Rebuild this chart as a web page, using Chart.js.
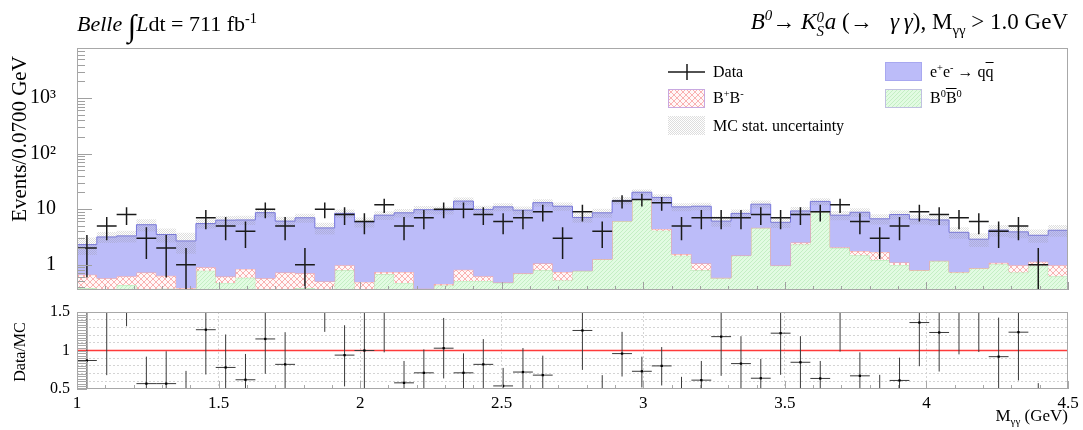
<!DOCTYPE html>
<html>
<head>
<meta charset="utf-8">
<script src="https://cdn.jsdelivr.net/npm/chart.js@4.4.1/dist/chart.umd.min.js"></script>
<style>
  body { margin: 0; background: #fff; width: 1083px; height: 430px; overflow: hidden; position: relative;
         font-family: "Liberation Serif", "DejaVu Serif", serif; color: #000; }
  canvas { position: absolute; left: 0; }
  #top_chart { top: 0; }
  #ratio_chart { top: 300px; }
  .t { position: absolute; white-space: nowrap; line-height: 1; }
  sup, sub { font-size: 0.65em; line-height: 0; }
  .ov { text-decoration: overline; }
  .stk { display: inline-flex; flex-direction: column; vertical-align: middle; font-size: 0.65em; line-height: 0.95; margin-right: 1px; }
  .leg { position: absolute; font-size: 16px; white-space: nowrap; line-height: 1; }
  .legbox { position: absolute; }
</style>
</head>
<body>
<canvas id="top_chart" width="1083" height="300"></canvas>
<canvas id="ratio_chart" width="1083" height="130"></canvas>

<div class="t" style="left:77px;top:10px;font-size:22px"><i>Belle</i> <span style="font-size:31px;vertical-align:-5px">&#8747;</span><i>L</i>dt = 711 fb<sup>-1</sup></div>
<div class="t" style="right:15px;top:10px;font-size:23px"><i>B<sup>0</sup></i>&#8594; <i>K</i><span class="stk"><i>0</i><i>S</i></span><i>a</i> (&#8594;&nbsp;&nbsp; <i>&#947;&#8201;&#947;</i>), M<sub>&#947;&#947;</sub> &gt; 1.0 GeV</div>
<div class="t" style="left:19px;top:139px;font-size:21px;transform:translate(-50%,-50%) rotate(-90deg)">Events/0.0700 GeV</div>
<div class="t" style="left:20px;top:352px;font-size:16px;transform:translate(-50%,-50%) rotate(-90deg)">Data/MC</div>
<div class="t" style="right:15px;top:407px;font-size:17px">M<sub>&#947;&#947;</sub> (GeV)</div>

<canvas class="legbox" id="leg_data" width="40" height="22" style="left:666px;top:61px"></canvas>
<div class="leg" style="left:713px;top:64px">Data</div>
<canvas class="legbox" id="leg_bpbm" width="37" height="19" style="left:668px;top:89px"></canvas>
<div class="leg" style="left:713px;top:90px">B<sup>+</sup>B<sup>-</sup></div>
<canvas class="legbox" id="leg_mc" width="37" height="19" style="left:668px;top:116px"></canvas>
<div class="leg" style="left:713px;top:118px">MC stat. uncertainty</div>
<canvas class="legbox" id="leg_qq" width="37" height="19" style="left:885px;top:62px"></canvas>
<div class="leg" style="left:930px;top:64px">e<sup>+</sup>e<sup>-</sup> &#8594; q<span class="ov">q</span></div>
<canvas class="legbox" id="leg_b0" width="37" height="19" style="left:885px;top:89px"></canvas>
<div class="leg" style="left:930px;top:90px">B<sup>0</sup><span class="ov">B</span><sup>0</sup></div>

<script>
// binning: 50 bins of 0.07 GeV from 1.0 to 4.5
const bin_low = 1.0;
const bin_width = 0.07;
const n_bins = 50;

const data_counts = [2,5,8,3,2,1,7,5,4,10, 5,1,10,8,6,12,5,7,10,10, 8,6,7,9,3,9,4,14,15,13, 5,7,7,7,8,7,8,9,12,6, 3,5,9,8,7,6,4,5,1,0];
const data_err = [1.41,2.24,2.83,1.73,1.41,1,2.65,2.24,2,3.16, 2.24,1,3.16,2.83,2.45,3.46,2.24,2.65,3.16,3.16,
                  2.83,2.45,2.65,3,1.73,3,2,3.74,3.87,3.61, 2.24,2.65,2.65,2.65,2.83,2.65,2.83,3,3.46,2.45,
                  1.73,2.24,3,2.83,2.65,2.45,2,2.24,1,0];

// MC components (events per bin)
const neutral_bb = [0.38,0.2,0.43,0.25,0.37,0.2,0.78,0.47,0.58,0.2, 0.25,0.38,0.2,0.79,0.2,0.67,0.47,0.2,0.42,0.51,
                    0.51,0.47,0.69,0.79,0.52,0.77,1.25,6.1,14.9,4.1, 1.45,0.79,0.57,1.45,4.6,0.96,2.3,8.96,2.0,1.48,
                    1.21,0.99,0.79,1.15,0.72,0.86,1.02,0.72,0.96,0.62];
const charged_bb = [0.28,0.37,0.19,0.47,0.26,0.18,0.12,0.14,0.26,0.37, 0.47,0.32,0.3,0.19,0.29,0.07,0.27,0.17,0.03,0.3,
                    0.11,0.01,0.01,0.26,0.22,0.01,0.01,0.05,0.1,0.3, 0.1,0.26,0.01,0.02,0.02,0.01,0.2,0.04,0.07,0.28,
                    0.49,0.11,0.01,0.03,0.02,0.01,0.06,0.26,0.17,0.36];
const continuum = [1.64,2.59,2.68,4.53,2.87,2.3,4.6,5.74,5.56,8.08, 5.38,6.3,4.1,7.42,5.41,7.06,7.86,9.43,9.15,13.19,
                   9.28,10.52,8.9,12.05,10.56,6.32,7.34,8.25,5.2,11.9, 9.45,10.25,5.52,6.93,7.68,4.83,6.8,4.8,5.73,7.04,
                   5.0,6.9,5.8,5.22,3.09,2.01,3.12,2.92,2.26,3.19];
const mc_stat_err = [0.8,0.7,0.8,1.3,1.0,1.1,1.0,1.2,1.2,1.5, 1.2,1.3,1.1,1.5,1.2,1.4,1.5,1.6,1.6,2.2,
                     1.6,1.8,1.6,2.0,1.9,1.4,1.6,2.2,2.5,2.3, 1.8,1.8,1.3,1.5,2.0,1.2,1.6,2.0,1.5,1.6,
                     1.4,1.5,1.3,1.3,0.9,0.8,1.0,0.9,0.9,1.0];

// Data/MC ratio with error bar ends
const ratio = [0.87,1.58,2.42,0.57,0.57,0.37,1.27,0.78,0.62,1.15, 0.82,0.14,2.17,0.94,1.0,1.54,0.58,0.71,1.03,0.71,
               0.82,0.54,0.72,0.68,0.27,1.26,0.47,0.96,0.73,0.80, 0.45,0.615,1.18,0.83,0.64,1.225,0.847,0.637,1.54,0.671,
               0.45,0.611,1.363,1.234,1.83,2.08,0.92,1.238,0.29,null];
const ratio_low = [0.2,0.68,1.315,0.2,0.1,0.0,0.688,0.36,0.29,0.697, 0.4,0.0,1.242,0.534,0.45,0.976,0.3,0.41,0.637,0.46,
                   0.49,0.3,0.41,0.43,0.1,0.748,0.24,0.662,0.52,0.546, 0.25,0.37,0.671,0.47,0.39,0.684,0.51,0.41,0.985,0.37,
                   0.2,0.32,0.796,0.727,0.95,0.98,0.41,0.611,0.0,null];
const ratio_high = [1.55,2.5,3.5,0.92,0.99,0.735,1.85,1.208,0.955,1.6, 1.238,0.3,3.1,1.328,1.55,2.1,0.864,1.015,1.423,0.963,
                    1.148,0.774,1.032,0.933,0.45,1.78,0.68,1.242,0.92,1.045, 0.658,0.864,1.69,1.186,0.89,1.77,1.186,0.864,2.1,0.976,
                    0.684,0.907,1.93,1.74,2.7,3.2,1.427,1.86,0.576,null];

const y_tick_labels = {1: "1", 10: "10", 100: "10\u00b2", 1000: "10\u00b3"};
const ratio_tick_labels = {0.5: "0.5", 1: "1", 1.5: "1.5"};

// ---------- patterns ----------
function make_pattern(size, draw) {
  const c = document.createElement("canvas");
  c.width = size; c.height = size;
  const g = c.getContext("2d");
  draw(g, size);
  return g.createPattern(c, "repeat");
}
const red_hatch = make_pattern(6, (g, s) => {
  g.fillStyle = "#fff8f8"; g.fillRect(0, 0, s, s);
  g.strokeStyle = "rgba(245,120,120,0.7)"; g.lineWidth = 0.8;
  g.beginPath(); g.moveTo(0, 0); g.lineTo(s, s); g.moveTo(s, 0); g.lineTo(0, s); g.stroke();
});
const green_hatch = make_pattern(4, (g, s) => {
  g.fillStyle = "#e2fbe2"; g.fillRect(0, 0, s, s);
  g.fillStyle = "#c4efc4";
  g.fillRect(0, 0, 1, 1); g.fillRect(2, 2, 1, 1); g.fillRect(1, 3, 1, 1); g.fillRect(3, 1, 1, 1);
});
const grey_hatch = make_pattern(2, (g, s) => {
  g.fillStyle = "rgba(150,150,150,0.32)";
  g.fillRect(0, 0, 1, 1); g.fillRect(1, 1, 1, 1);
});
const blue_fill = "#bcbcf9";
const blue_line = "#7474e2";

// ---------- histogram helpers ----------
const edges = [];
for (let i = 0; i <= n_bins; i++) edges.push(+(bin_low + i * bin_width).toFixed(4));

function step_points(values) {
  const pts = values.map((v, i) => ({x: edges[i], y: Math.max(v, 0.01)}));
  pts.push({x: edges[n_bins], y: Math.max(values[n_bins - 1], 0.01)});
  return pts;
}
const top_green = neutral_bb.slice();
const top_red = neutral_bb.map((v, i) => v + charged_bb[i]);
const top_total = top_red.map((v, i) => v + continuum[i]);
const band_low = top_total.map((v, i) => v - mc_stat_err[i]);
const band_high = top_total.map((v, i) => v + mc_stat_err[i]);

function cross_points(values, low, high, skip) {
  const pts = [];
  values.forEach((v, i) => {
    if (skip(v, i)) return;
    const c = edges[i] + bin_width / 2;
    pts.push({x: c, y: low[i]}, {x: c, y: high[i]}, {x: c, y: null});
    pts.push({x: edges[i], y: v}, {x: edges[i + 1], y: v}, {x: edges[i + 1], y: null});
  });
  return pts;
}
const data_low = data_counts.map((v, i) => Math.max(v - data_err[i], 0.01));
const data_high = data_counts.map((v, i) => v + data_err[i]);

// ---------- ROOT-like frame and inward ticks ----------
const root_axes = {
  id: "root_axes",
  afterDatasetsDraw(chart, args, opts) {
    const {ctx, chartArea: a, scales} = chart;
    ctx.save();
    ctx.strokeStyle = opts.color;
    ctx.lineWidth = 1;
    ctx.beginPath();
    opts.x_ticks.forEach(([v, len]) => {
      const px = Math.round(scales.x.getPixelForValue(v)) + 0.5;
      ctx.moveTo(px, a.bottom); ctx.lineTo(px, a.bottom - len);
    });
    opts.y_ticks.forEach(([v, len]) => {
      const py = Math.round(scales.y.getPixelForValue(v)) + 0.5;
      ctx.moveTo(a.left, py); ctx.lineTo(a.left + len, py);
    });
    ctx.stroke();
    ctx.strokeStyle = opts.frame;
    ctx.strokeRect(a.left + 0.5, a.top + 0.5, a.right - a.left - 1, a.bottom - a.top - 1);
    ctx.restore();
  }
};

function no_pad(s) {
  s.paddingTop = 0; s.paddingBottom = 0; s.paddingLeft = 0; s.paddingRight = 0;
}

const x_ticks = [];
for (let k = 0; k <= 35; k++) x_ticks.push([1 + k * 0.1, k % 5 == 0 ? 8 : 4]);
const log_ticks = [];
for (let d = -1; d <= 3; d++) {
  for (let m = 1; m <= 9; m++) {
    const v = m * Math.pow(10, d);
    if (v >= 0.35 && v <= 8000) log_ticks.push([v, m == 1 ? 15 : 8]);
  }
}
const ratio_y_ticks = [];
for (let k = 0; k <= 30; k++) ratio_y_ticks.push([0.5 + k / 30, 10]);

const serif = "'Liberation Serif', 'DejaVu Serif', serif";

// ---------- top panel ----------
new Chart(document.getElementById("top_chart"), {
  type: "line",
  data: {
    datasets: [
      {data: step_points(top_green), stepped: true, fill: "start", backgroundColor: green_hatch,
       borderColor: "#b4e8b4", borderWidth: 1, pointRadius: 0, order: 10, clip: 0},
      {data: step_points(top_red), stepped: true, fill: "-1", backgroundColor: red_hatch,
       borderColor: "#f2a0a0", borderWidth: 1, pointRadius: 0, order: 9, clip: 0},
      {data: step_points(top_total), stepped: true, fill: "-1", backgroundColor: blue_fill,
       borderColor: blue_line, borderWidth: 1, pointRadius: 0, order: 8, clip: 0},
      {data: step_points(band_low), stepped: true, fill: false, borderWidth: 0, borderColor: "rgba(0,0,0,0)",
       pointRadius: 0, order: 7, clip: 0},
      {data: step_points(band_high), stepped: true, fill: "-1", backgroundColor: grey_hatch, borderWidth: 0,
       borderColor: "rgba(0,0,0,0)", pointRadius: 0, order: 6, clip: 0},
      {data: cross_points(data_counts, data_low, data_high, v => v <= 0), borderColor: "#1a1a1a",
       borderWidth: 1.5, pointRadius: 0, spanGaps: false, fill: false, order: 1, clip: 0}
    ]
  },
  options: {
    responsive: false,
    animation: false,
    events: [],
    layout: {padding: {top: 48, right: 15, bottom: 10, left: 0}},
    plugins: {
      legend: {display: false},
      tooltip: {enabled: false},
      root_axes: {color: "#a0a0a0", frame: "#a8a8a8", x_ticks: x_ticks, y_ticks: log_ticks}
    },
    scales: {
      x: {type: "linear", min: 1, max: 4.5,
          ticks: {display: false}, grid: {display: false}, border: {display: false},
          afterFit: s => { s.height = 0; no_pad(s); }},
      y: {type: "logarithmic", min: 0.35, max: 8000,
          grid: {display: false}, border: {display: false},
          afterBuildTicks: s => { s.ticks = [1, 10, 100, 1000].map(v => ({value: v})); },
          ticks: {callback: v => y_tick_labels[v] ?? "", color: "#000", padding: 13, autoSkip: false,
                  font: {family: serif, size: 20}},
          afterFit: s => { s.width = 77; no_pad(s); }}
    }
  },
  plugins: [root_axes]
});

// ---------- ratio panel ----------
const ratio_points = [];
ratio.forEach((r, i) => { if (r != null) ratio_points.push({x: edges[i] + bin_width / 2, y: r}); });

function is_half(v) { return Math.abs(v * 2 - Math.round(v * 2)) < 1e-6; }

new Chart(document.getElementById("ratio_chart"), {
  type: "line",
  data: {
    datasets: [
      {data: [{x: 1, y: 1}, {x: 4.5, y: 1}], borderColor: "#ff3b3b", borderWidth: 1.5, pointRadius: 0,
       order: 5, clip: 0},
      {data: cross_points(ratio, ratio_low, ratio_high, v => v == null), borderColor: "#3a3a3a",
       borderWidth: 1, pointRadius: 0, spanGaps: false, fill: false, order: 2, clip: 0},
      {data: ratio_points, showLine: false, pointStyle: "rect", pointRadius: 1.6,
       backgroundColor: "#000", borderColor: "#000", borderWidth: 0, order: 1, clip: 0}
    ]
  },
  options: {
    responsive: false,
    animation: false,
    events: [],
    layout: {padding: {top: 12, right: 15, bottom: 0, left: 0}},
    plugins: {
      legend: {display: false},
      tooltip: {enabled: false},
      root_axes: {color: "#a8a8a8", frame: "#a8a8a8", x_ticks: x_ticks, y_ticks: ratio_y_ticks}
    },
    scales: {
      x: {type: "linear", min: 1, max: 4.5,
          afterBuildTicks: s => { s.ticks = x_ticks.map(([v]) => ({value: v})); },
          ticks: {autoSkip: false, maxRotation: 0, padding: 4, color: "#000",
                  font: {family: serif, size: 17},
                  callback: v => (is_half(v) ? String(+v.toFixed(1)) : "")},
          grid: {drawTicks: false,
                 color: c => (c.tick && is_half(c.tick.value) && c.tick.value > 1.01 && c.tick.value < 4.49)
                             ? "#d4d4d4" : "rgba(0,0,0,0)"},
          border: {display: false, dash: [2, 2]},
          afterFit: s => { s.height = 41; no_pad(s); }},
      y: {type: "linear", min: 0.5, max: 1.5,
          afterBuildTicks: s => {
            const t = [];
            for (let k = 0; k <= 10; k++) t.push({value: +(0.5 + k * 0.1).toFixed(1)});
            s.ticks = t;
          },
          ticks: {color: "#000", padding: 7, autoSkip: false, font: {family: serif, size: 16},
                  callback: v => ratio_tick_labels[v] ?? ""},
          grid: {drawTicks: false,
                 color: c => (c.tick && c.tick.value > 0.55 && c.tick.value < 1.45) ? "#d4d4d4" : "rgba(0,0,0,0)"},
          border: {display: false, dash: [2, 2]},
          afterFit: s => { s.width = 77; no_pad(s); }}
    }
  },
  plugins: [root_axes]
});

// ---------- legend icons ----------
function box(id, fill, stroke) {
  const c = document.getElementById(id), g = c.getContext("2d");
  g.fillStyle = fill; g.fillRect(0, 0, c.width, c.height);
  if (stroke) { g.strokeStyle = stroke; g.lineWidth = 1; g.strokeRect(0.5, 0.5, c.width - 1, c.height - 1); }
}
box("leg_bpbm", red_hatch, "#c8a8e0");
box("leg_mc", grey_hatch, null);
box("leg_qq", blue_fill, "#a8a8f0");
box("leg_b0", green_hatch, "#c0c0e0");
(function () {
  const c = document.getElementById("leg_data"), g = c.getContext("2d");
  g.strokeStyle = "#1a1a1a"; g.lineWidth = 1.5;
  g.beginPath(); g.moveTo(2, 11); g.lineTo(39, 11); g.moveTo(21, 3); g.lineTo(21, 19); g.stroke();
})();
</script>
</body>
</html>
